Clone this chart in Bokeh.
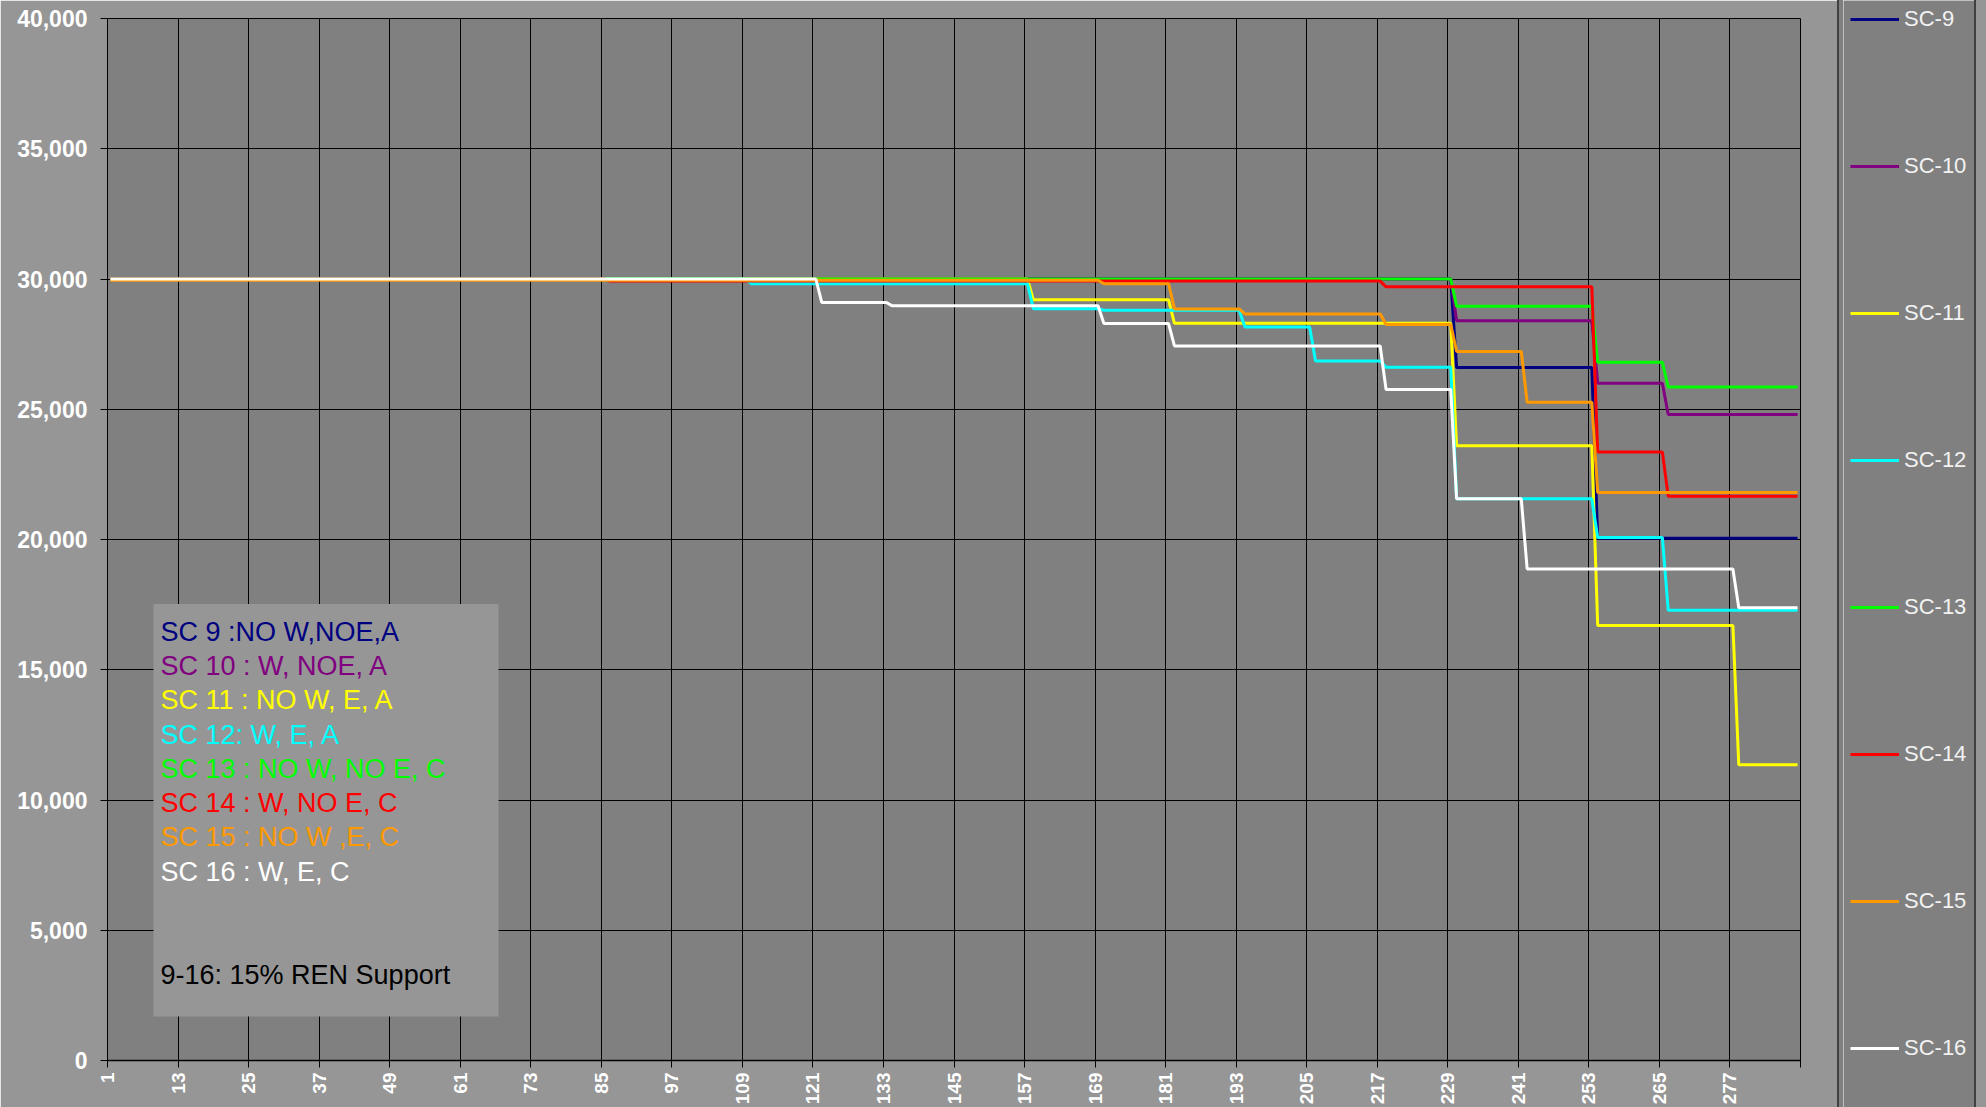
import math
from bokeh.plotting import figure
from bokeh.layouts import row, column
from bokeh.models import (Range1d, FixedTicker, NumeralTickFormatter, Legend, LegendItem,
                          Label, BoxAnnotation, Spacer)
from bokeh.embed import file_html
from bokeh.resources import INLINE

# ---------------- data ----------------
N_PERIODS = 288
periods = list(range(1, N_PERIODS + 1))

series_names = ["SC-9", "SC-10", "SC-11", "SC-12", "SC-13", "SC-14", "SC-15", "SC-16"]
series_colors = ["#000080", "#800080", "#FFFF00", "#00FFFF", "#00FF00", "#FF0000", "#FF9900", "#FFFFFF"]

# step series: period at which each level starts, and the level
sc9_start = [1, 230, 254]
sc9_level = [30000, 26600, 20050]
sc10_start = [1, 230, 254, 266]
sc10_level = [30000, 28400, 26000, 24800]
sc11_start = [1, 158, 182, 230, 254, 278]
sc11_level = [30000, 29200, 28300, 23600, 16700, 11350]
sc12_start = [1, 110, 158, 170, 194, 206, 218, 230, 254, 266]
sc12_level = [30000, 29820, 28860, 28800, 28160, 26850, 26610, 21560, 20080, 17280]
sc13_start = [1, 230, 254, 266]
sc13_level = [30000, 28950, 26800, 25850]
sc14_start = [1, 86, 218, 254, 266]
sc14_level = [30000, 29920, 29700, 23360, 21660]
sc15_start = [1, 170, 182, 194, 218, 230, 242, 254]
sc15_level = [29950, 29820, 28850, 28660, 28250, 27220, 25270, 21800]
sc16_start = [1, 122, 134, 170, 182, 218, 230, 242, 278]
sc16_level = [30000, 29100, 28970, 28290, 27430, 25760, 21560, 18870, 17380]

series_starts = [sc9_start, sc10_start, sc11_start, sc12_start, sc13_start, sc14_start, sc15_start, sc16_start]
series_levels = [sc9_level, sc10_level, sc11_level, sc12_level, sc13_level, sc14_level, sc15_level, sc16_level]

x_tick_labels = ["1", "13", "25", "37", "49", "61", "73", "85", "97", "109", "121", "133",
                 "145", "157", "169", "181", "193", "205", "217", "229", "241", "253", "265", "277"]
y_ticks = [0, 5000, 10000, 15000, 20000, 25000, 30000, 35000, 40000]

box_lines = ["SC 9 :NO W,NOE,A", "SC 10 :  W, NOE, A", "SC 11 : NO W, E, A", "SC 12: W, E, A",
             "SC 13 : NO W, NO E, C", "SC 14 : W, NO E, C", "SC 15 : NO W ,E, C", "SC 16 : W, E, C"]
box_note = "9-16: 15%  REN Support"


def expand(starts, levels):
    out = []
    for p_ in periods:
        lv = levels[0]
        for s, l in zip(starts, levels):
            if p_ >= s:
                lv = l
        out.append(lv)
    return out


series_values = [expand(st, lv) for st, lv in zip(series_starts, series_levels)]

# ---------------- layout ----------------
H = 1107
W_MAIN = 1837
FONT = "Liberation Sans"
OUTER = "#969696"
PLOT_BG = "#808080"
EDGE = "#404040"

p = figure(width=W_MAIN, height=H, output_backend="svg", toolbar_location=None,
           x_range=Range1d(0.5, N_PERIODS + 0.5), y_range=Range1d(0, 40000),
           min_border_left=107, min_border_top=18, min_border_right=37, min_border_bottom=46)
p.background_fill_color = PLOT_BG
p.border_fill_color = OUTER
p.outline_line_color = "black"
p.outline_line_width = 1

# reference-picture pixel helpers (plot area: x 107..1800, y 18..1061)
ref_step = 1693 / N_PERIODS


def sx(px):
    return 0.5 + (px - 107) / ref_step


def sy(py):
    return (1061 - py) * 40000 / 1043


renderers = []
for col, vals in zip(series_colors, series_values):
    renderers.append(p.line(periods, vals, line_color=col, line_width=3))

# x axis: category boundaries every 12 periods
x_tick_pos = [int(t) - 0.5 for t in x_tick_labels] + [N_PERIODS + 0.5]
overrides = {int(t) - 0.5: t for t in x_tick_labels}
overrides[N_PERIODS + 0.5] = ""
p.xaxis.ticker = FixedTicker(ticks=x_tick_pos)
p.xaxis.major_label_overrides = overrides
p.xaxis.major_label_orientation = math.pi / 2
p.xaxis.major_label_text_font = FONT
p.xaxis.major_label_text_font_style = "bold"
p.xaxis.major_label_text_font_size = "19px"
p.xaxis.major_label_text_color = "white"
p.xaxis.major_label_standoff = 5
p.xaxis.minor_tick_line_color = None
p.xaxis.major_tick_out = 7
p.xaxis.major_tick_in = 0
p.xaxis.axis_line_color = "black"
p.xaxis.axis_line_width = 1.5
p.xaxis.major_tick_line_color = "black"

p.yaxis.ticker = FixedTicker(ticks=y_ticks)
p.yaxis.formatter = NumeralTickFormatter(format="0,0")
p.yaxis.minor_tick_line_color = None
p.yaxis.major_tick_out = 7
p.yaxis.major_tick_in = 0
p.yaxis.axis_line_color = "black"
p.yaxis.major_tick_line_color = "black"
p.yaxis.major_label_text_font = FONT
p.yaxis.major_label_text_font_style = "bold"
p.yaxis.major_label_text_font_size = "23px"
p.yaxis.major_label_text_color = "white"
p.yaxis.major_label_standoff = 13

p.xgrid.grid_line_color = "black"
p.ygrid.grid_line_color = "black"
p.xgrid.ticker = FixedTicker(ticks=x_tick_pos)
p.ygrid.ticker = FixedTicker(ticks=y_ticks)

# annotation text box inside the plot
p.add_layout(BoxAnnotation(left=sx(153), right=sx(498), top=sy(604), bottom=sy(1017),
                           fill_color=OUTER, fill_alpha=1, line_color=None))
for i, (txt, col) in enumerate(zip(box_lines, series_colors)):
    p.add_layout(Label(x=sx(160), y=sy(631.7 + 34.33 * i), text=txt, text_color=col,
                       text_font=FONT, text_font_size="27px", text_baseline="alphabetic"))
p.add_layout(Label(x=sx(160), y=sy(975), text=box_note, text_color="black",
                   text_font=FONT, text_font_size="27px", text_baseline="alphabetic"))

# ---------------- legend panel (right) ----------------
pl = figure(width=131, height=H, output_backend="svg", toolbar_location=None,
            x_range=Range1d(-2, -1), y_range=Range1d(-2, -1),
            x_axis_location=None, y_axis_location=None,
            min_border_left=0, min_border_right=0, min_border_top=0, min_border_bottom=0)
pl.background_fill_color = PLOT_BG
pl.border_fill_color = PLOT_BG
pl.outline_line_color = None
pl.grid.visible = False

leg_renderers = []
for col, vals in zip(series_colors, series_values):
    # same series; this panel's ranges keep them off-screen, only legend swatches show
    leg_renderers.append(pl.line(periods, vals, line_color=col, line_width=3))

items = [LegendItem(label=n, renderers=[r]) for n, r in zip(series_names, leg_renderers)]
legend = Legend(items=items, location=(7, 46), orientation="vertical",
                glyph_width=49, glyph_height=26, label_height=26, label_width=60,
                spacing=121, padding=0, margin=0, label_standoff=5,
                border_line_color=None, background_fill_alpha=0,
                label_text_font=FONT, label_text_font_size="22px",
                label_text_color="#F2F2F2")
pl.add_layout(legend)

edge_left = Spacer(width=2, height=H, styles={"background-color": EDGE})
gap = Spacer(width=4, height=H, styles={"background-color": PLOT_BG})
edge_right = Spacer(width=2, height=H, styles={"background-color": EDGE})
strip = Spacer(width=10, height=H, styles={"background-color": OUTER})

layout = row(p, edge_left, gap, column(pl), edge_right, strip, spacing=0)
open("out.html", "w").write(file_html(layout, INLINE))
